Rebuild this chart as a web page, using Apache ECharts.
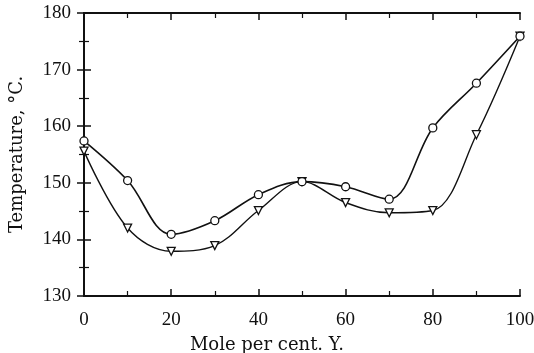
<!DOCTYPE html>
<html lang="en">
<head>
  <meta charset="UTF-8">
  <title>Temperature vs mole per cent Y</title>
  <style type="text/css">
    html, body { margin: 0; padding: 0; background: #fff; }
    #main { width: 534px; height: 353px; }
  </style>
</head>
<body>
  <div id="main"></div>
</body>
<script type="text/javascript" src="https://cdn.jsdelivr.net/npm/echarts@6/dist/echarts.min.js"></script>
<script type="text/javascript">
  // data
  var molePct = [0, 10, 20, 30, 40, 50, 60, 70, 80, 90, 100]
  var circleTemp = [157.4, 150.4, 140.9, 143.3, 147.9, 150.2, 149.3, 147.1, 159.7, 167.6, 175.9]
  var triangleTemp = [155.6, 142.0, 137.9, 138.9, 145.1, 150.2, 146.5, 144.7, 145.1, 158.5, 175.9]

  function pairs(xs, ys) {
    var out = []
    for (var i = 0; i < xs.length; i++) {
      out.push([xs[i], ys[i]])
    }
    return out
  }

  var tickFont = 'Liberation Serif'
  var nameFont = 'DejaVu Serif'
  var ink = '#111'

  var myChart = echarts.init(document.getElementById('main'));
  var option = {
    backgroundColor: '#fff',
    animation: false,
    grid: { left: 84, right: 14, top: 13, bottom: 57, outerBoundsMode: 'none' },
    xAxis: [{
      type: 'value',
      min: 0, max: 100, interval: 20,
      name: 'Mole per cent. Y.',
      nameLocation: 'middle',
      nameGap: 40,
      // the printed caption sits left of centre
      nameTextStyle: { fontFamily: nameFont, fontSize: 18, color: ink, padding: [0, 70, 0, 0] },
      axisLine: { lineStyle: { color: ink, width: 2 } },
      axisTick: { inside: true, length: 7, lineStyle: { color: ink, width: 1.5 } },
      minorTick: { show: true, splitNumber: 2, length: 5, lineStyle: { color: ink, width: 1.2 } },
      axisLabel: { fontFamily: tickFont, fontSize: 19, color: ink, margin: 15 },
      splitLine: { show: false }
    }, {
      type: 'value',
      position: 'top',
      min: 0, max: 100, interval: 20,
      axisLine: { lineStyle: { color: ink, width: 2 } },
      axisTick: { inside: true, length: 7, lineStyle: { color: ink, width: 1.5 } },
      minorTick: { show: true, splitNumber: 2, length: 5, lineStyle: { color: ink, width: 1.2 } },
      axisLabel: { show: false },
      splitLine: { show: false }
    }],
    yAxis: [{
      type: 'value',
      min: 130, max: 180, interval: 10,
      name: 'Temperature, °C.',
      nameLocation: 'middle',
      nameGap: 58,
      nameTextStyle: { fontFamily: nameFont, fontSize: 18, color: ink },
      axisLine: { lineStyle: { color: ink, width: 2 } },
      axisTick: { inside: true, length: 7, lineStyle: { color: ink, width: 1.5 } },
      minorTick: { show: true, splitNumber: 2, length: 5, lineStyle: { color: ink, width: 1.2 } },
      axisLabel: { fontFamily: tickFont, fontSize: 19, color: ink, margin: 13 },
      splitLine: { show: false }
    }, {
      type: 'value',
      position: 'right',
      min: 130, max: 180, interval: 10,
      axisLine: { lineStyle: { color: ink, width: 2 } },
      axisTick: { inside: true, length: 7, lineStyle: { color: ink, width: 1.5 } },
      minorTick: { show: true, splitNumber: 2, length: 5, lineStyle: { color: ink, width: 1.2 } },
      axisLabel: { show: false },
      splitLine: { show: false }
    }],
    series: [{
      name: 'circles',
      type: 'line',
      data: pairs(molePct, circleTemp),
      smooth: 0.35,
      symbol: 'circle',
      symbolSize: 8,
      showAllSymbol: true,
      lineStyle: { color: ink, width: 1.6 },
      itemStyle: { color: '#fff', borderColor: ink, borderWidth: 1.3 },
      z: 3
    }, {
      name: 'triangles',
      type: 'line',
      data: pairs(molePct, triangleTemp),
      smooth: 0.35,
      symbol: 'triangle',
      symbolRotate: 180,
      symbolSize: 8,
      showAllSymbol: true,
      lineStyle: { color: ink, width: 1.4 },
      itemStyle: { color: '#fff', borderColor: ink, borderWidth: 1.3 },
      z: 2
    }]
  };
  myChart.setOption(option);
</script>
</html>
